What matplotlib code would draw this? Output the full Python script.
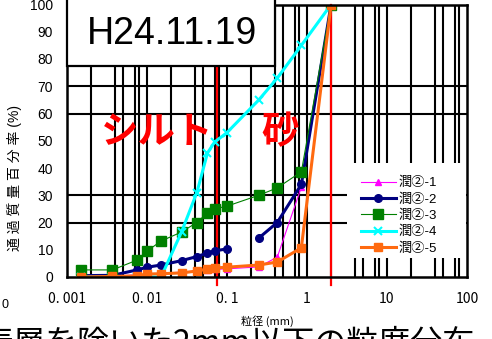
import matplotlib.pyplot as plt
from matplotlib.patches import Rectangle
import numpy as np

plt.rcParams['font.family'] = ['Liberation Sans', 'Noto Sans CJK JP', 'DejaVu Sans']

# grain size (mm) and percent passing for each sample
sizes = [0.0015, 0.0037, 0.0075, 0.0101, 0.015, 0.027, 0.042, 0.057, 0.07, 0.1,
         0.25, 0.425, 0.85, 2.0]
s1 = [0, 0.3, 0.8, 1.0, 1.3, 1.8, 2.2, 2.6, 2.8, 3.0, 3.7, 7.3, 33, 100]
s2 = [0.5, 0.6, 2.6, 3.6, 4.4, 6.0, 7.5, 8.8, 9.6, 10.3, 14.3, 20, 34, 100]
s3 = [2.6, 2.6, 6.2, 9.6, 13.2, 16.5, 20, 23.5, 25, 26, 30, 32.7, 38.6, 100]
s4 = [0, 0, 0, 0, 0, 16.5, 31, 45.5, 49.5, 53, 65, 73, 85, 100]
s5 = [0, 0.2, 0.4, 1.1, 1.2, 1.5, 2.2, 2.9, 3.3, 3.6, 4.4, 5.5, 10.7, 100]
labels = ['潤②-1', '潤②-2', '潤②-3', '潤②-4', '潤②-5']

xticks = [0.001, 0.01, 0.1, 1, 10, 100]
xticklabels = ['0. 001', '0. 01', '0. 1', '1', '10', '100']
yticks = list(range(0, 101, 10))
hgrid = [20, 30, 60, 70]
boundaries = [0.075, 2.0]

W, H = 492, 339
fig = plt.figure(figsize=(W / 100, H / 100), dpi=100)
ax = fig.add_axes([67 / W, 1 - 277 / H, 400 / W, 272.5 / H])
ax.set_xscale('log')
ax.set_xlim(0.001, 100)
ax.set_ylim(0, 100)

# log grid (1,2,4,5,7,8 in each decade)
for k in range(-3, 2):
    for m in [1, 2, 4, 5, 7, 8]:
        v = m * 10.0 ** k
        if v > 0.001:
            ax.axvline(v, color='black', lw=1.5, zorder=1)
for y in hgrid:
    ax.axhline(y, color='black', lw=1.5, zorder=1)

for b in boundaries:
    ax.plot([b, b], [-3, 100], color='red', lw=1.6, zorder=2, clip_on=False)

ax.plot(sizes, s1, color='#ff00ff', lw=0.8, marker='^', ms=5, zorder=3, label=labels[0])
ax.plot(sizes[:10], s2[:10], color='#000080', lw=2.2, marker='o', ms=5.5, zorder=3,
        label=labels[1])
ax.plot(sizes[10:], s2[10:], color='#000080', lw=2.2, marker='o', ms=5.5, zorder=3)
ax.plot(sizes, s3, color='#008000', lw=0.8, marker='s', ms=6.5, zorder=3, label=labels[2])
ax.plot(sizes, s4, color='#00ffff', lw=2.2, marker='x', ms=5.5, mew=1.5, zorder=3,
        label=labels[3])
ax.plot(sizes, s5, color='#ff6a10', lw=2.2, marker='s', ms=5.5, zorder=3, label=labels[4])

for sp in ax.spines.values():
    sp.set_linewidth(1.8)
    sp.set_zorder(4)

ax.set_xticks(xticks)
ax.set_xticklabels(xticklabels, fontsize=10, family=['Noto Sans CJK JP'])
ax.minorticks_off()
ax.set_yticks(yticks)
ax.tick_params(axis='x', length=0, pad=11)
ax.tick_params(axis='y', length=0, pad=10, labelsize=10)

# white legend area
ax.add_patch(Rectangle((0.70, 0.07), 0.2975, 0.35, transform=ax.transAxes,
                       facecolor='white', edgecolor='none', zorder=5))
leg = ax.legend(loc='center', bbox_to_anchor=(0.83, 0.225), fontsize=9.5,
                frameon=False, handlelength=2.7, labelspacing=0.3,
                handletextpad=0.2, borderpad=0, borderaxespad=0)
leg.set_zorder(6)

# date box
fig.add_artist(Rectangle((67 / W, 1 - 66 / H), 208 / W, 70 / H,
                         transform=fig.transFigure, facecolor='white',
                         edgecolor='black', lw=1.6, zorder=5))
fig.text(172 / W, 1 - 34 / H, 'H24.11.19', fontsize=27, ha='center', va='center',
         zorder=6)

fig.text(157 / W, 1 - 132 / H, 'シルト', fontsize=27, color='red', weight='bold',
         ha='center', va='center', family=['Noto Sans CJK JP'], zorder=5)
fig.text(280 / W, 1 - 132 / H, '砂', fontsize=27, color='red', weight='bold',
         ha='center', va='center', family=['Noto Sans CJK JP'], zorder=5)

fig.text(15 / W, 1 - 178 / H, '通 過 質 量 百 分 率 (%)', rotation=90, fontsize=10,
         ha='center', va='center')
fig.text(267 / W, 1 - 321 / H, '粒径 (mm)', fontsize=8, ha='center', va='center',
         family=['Noto Sans CJK JP'])
fig.text(5 / W, 1 - 305 / H, '0', fontsize=9, ha='center', va='center')
fig.text(228 / W, 1 - 344 / H, '表層を除いた2mm以下の粒度分布', fontsize=23,
         ha='center', va='center', family=['Noto Sans CJK JP'])

fig.savefig('out.png', dpi=100)
